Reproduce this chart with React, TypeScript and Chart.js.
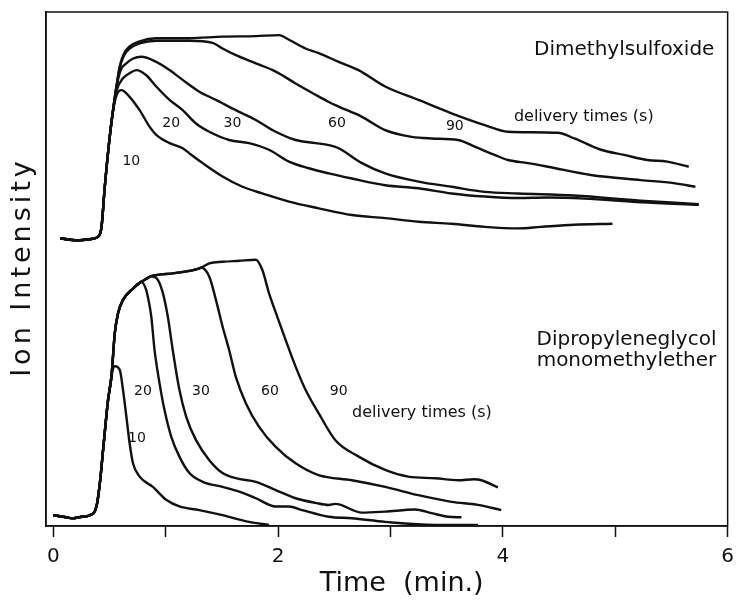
import { useEffect, useRef } from 'react';
import { Chart, registerables } from 'chart.js';

Chart.register(...registerables);

type P = [number, number];

// ---- x axis ----
const xTickValues = [0, 1, 2, 3, 4, 5, 6];
const xMin = -0.065;
const xMax = 6;

// ---- Dimethylsulfoxide (upper traces), [time (min), intensity] ----
const dmsoRise: P[] = [[0.06, 56.0], [0.148, 55.7], [0.236, 55.6], [0.325, 55.8], [0.399, 56.3], [0.429, 58.2], [0.458, 66.0], [0.502, 75.7]];
const dmso10: P[] = [[0.529, 80.5], [0.564, 83.9], [0.606, 84.8], [0.679, 83.5], [0.768, 80.9], [0.856, 77.7], [0.916, 76.1], [1.034, 74.5], [1.151, 73.5], [1.211, 72.5], [1.329, 70.6], [1.506, 68.0], [1.683, 66.0], [1.86, 64.7], [2.097, 63.1], [2.362, 61.8], [2.657, 60.5], [2.953, 59.9], [3.248, 59.2], [3.543, 58.8], [3.839, 58.2], [4.134, 57.9], [4.34, 58.2], [4.636, 58.6], [4.975, 58.8]];
const dmso20: P[] = [[0.538, 81.9], [0.564, 84.8], [0.62, 87.1], [0.679, 88.1], [0.739, 88.7], [0.827, 87.7], [0.916, 85.5], [1.034, 82.9], [1.151, 80.9], [1.27, 78.3], [1.388, 76.7], [1.565, 75.1], [1.742, 74.5], [1.919, 73.2], [2.097, 70.9], [2.274, 69.6], [2.451, 68.6], [2.657, 67.6], [2.953, 66.3], [3.248, 65.7], [3.543, 64.7], [3.839, 64.1], [4.134, 63.8], [4.4, 63.9], [4.725, 63.7], [5.226, 63.0], [5.743, 62.5]];
const dmso30: P[] = [[0.538, 81.9], [0.56, 85.2], [0.6, 88.7], [0.65, 90.0], [0.706, 90.9], [0.783, 91.3], [0.916, 90.3], [1.034, 88.7], [1.151, 86.8], [1.299, 84.5], [1.447, 82.9], [1.624, 80.9], [1.802, 79.0], [1.979, 76.7], [2.156, 75.1], [2.333, 74.5], [2.451, 74.1], [2.539, 73.5], [2.746, 70.6], [2.953, 68.6], [3.248, 67.0], [3.543, 66.0], [3.839, 65.0], [4.134, 64.7], [4.636, 64.3], [5.226, 63.3], [5.743, 62.6]];
const dmso60: P[] = [[0.538, 81.9], [0.562, 85.5], [0.59, 89.1], [0.626, 91.4], [0.679, 92.9], [0.768, 93.9], [0.916, 94.4], [1.211, 94.4], [1.417, 94.0], [1.506, 92.9], [1.624, 91.6], [1.802, 90.0], [1.979, 88.4], [2.156, 86.1], [2.333, 83.9], [2.451, 82.5], [2.539, 81.6], [2.746, 79.6], [2.953, 77.0], [3.189, 75.7], [3.366, 75.4], [3.602, 75.1], [3.75, 73.8], [3.927, 72.2], [4.045, 71.2], [4.222, 70.6], [4.4, 69.9], [4.783, 68.3], [5.226, 67.3], [5.522, 66.7], [5.713, 66.0]];
const dmso90: P[] = [[0.538, 81.9], [0.562, 85.5], [0.59, 89.3], [0.626, 91.8], [0.679, 93.3], [0.768, 94.3], [0.916, 94.9], [1.211, 94.9], [1.506, 95.2], [1.802, 95.3], [2.008, 95.5], [2.097, 94.6], [2.244, 92.9], [2.362, 92.0], [2.539, 90.3], [2.716, 88.7], [2.953, 85.5], [3.248, 82.9], [3.543, 80.3], [3.839, 78.0], [4.045, 76.7], [4.488, 76.5], [4.636, 75.4], [4.872, 73.2], [5.079, 72.2], [5.285, 71.2], [5.462, 70.9], [5.654, 69.9]];

// ---- Dipropyleneglycol monomethylether (lower traces) ----
const dpgRise: P[] = [[0, 2.1], [0.089, 1.8], [0.177, 1.5], [0.254, 1.8], [0.325, 2.1], [0.384, 3.8], [0.414, 8.3], [0.443, 14.8], [0.487, 24.5], [0.517, 29.0]];
const dpgEnvelope: P[] = [[0.547, 37.5], [0.576, 41.4], [0.62, 44.0], [0.709, 46.2], [0.783, 47.5]];
const dpgPlateau: P[] = [[0.821, 48.0], [0.872, 48.6]];
const dpg10: P[] = [[0.533, 30.7], [0.547, 31.1], [0.591, 30.4], [0.62, 26.5], [0.65, 21.3], [0.679, 16.1], [0.709, 12.2], [0.768, 9.6], [0.886, 7.6], [1.004, 5.1], [1.122, 3.8], [1.299, 3.1], [1.506, 2.1], [1.742, 0.8], [1.919, 0.2]];
const dpg20: P[] = [[0.827, 45.9], [0.841, 44.6], [0.872, 40.7], [0.901, 34.2], [0.945, 27.8], [0.989, 22.6], [1.049, 17.4], [1.122, 13.5], [1.211, 10.3], [1.329, 8.6], [1.506, 7.6], [1.654, 6.7], [1.802, 5.4], [1.979, 3.8], [2.097, 3.8], [2.214, 3.1], [2.451, 1.8], [2.657, 1.5], [2.953, 0.8], [3.396, 0.2], [3.779, 0.2]];
const dpg30: P[] = [[0.93, 47.9], [0.975, 45.3], [1.019, 40.7], [1.063, 34.2], [1.122, 26.5], [1.182, 21.3], [1.27, 16.7], [1.388, 12.8], [1.506, 10.3], [1.624, 9.3], [1.802, 8.6], [1.979, 7.0], [2.156, 5.4], [2.333, 4.5], [2.45, 4.1], [2.51, 4.3], [2.746, 2.6], [2.953, 2.8], [3.219, 3.2], [3.366, 2.5], [3.514, 1.8], [3.632, 1.7]];
const dpg60: P[] = [[1.078, 49.2], [1.299, 50.1], [1.314, 50.3], [1.388, 48.5], [1.447, 44.0], [1.506, 38.8], [1.565, 34.2], [1.624, 29.0], [1.713, 23.9], [1.831, 19.3], [1.979, 15.4], [2.156, 12.2], [2.36, 9.9], [2.657, 8.9], [2.953, 7.6], [3.248, 6.0], [3.543, 4.7], [3.779, 4.1], [3.986, 3.1]];
const dpg90: P[] = [[1.078, 49.2], [1.299, 50.1], [1.388, 51.1], [1.506, 51.4], [1.654, 51.6], [1.802, 51.8], [1.86, 49.8], [1.919, 45.3], [1.993, 40.7], [2.067, 36.2], [2.156, 31.0], [2.244, 26.5], [2.362, 21.9], [2.51, 16.7], [2.717, 13.5], [2.953, 10.9], [3.159, 9.6], [3.396, 9.3], [3.602, 8.9], [3.744, 9.1], [3.809, 8.9], [3.956, 7.5]];

// ---- annotations ----
const curveLabels = ['10', '20', '30', '60', '90'];
const upperLabelT = [0.694, 1.049, 1.594, 2.524, 3.573];
const upperLabelV = [70.9, 78.3, 78.3, 78.3, 77.8];
const lowerLabelT = [0.744, 0.797, 1.314, 1.928, 2.539];
const lowerLabelV = [17.1, 26.1, 26.1, 26.1, 26.1];
const deliveryText = 'delivery times (s)';
const upperDeliveryPos: P = [4.72, 79.6];
const lowerDeliveryPos: P = [3.28, 22.1];
const upperCompound = ['Dimethylsulfoxide'];
const upperCompoundPos: P = [5.08, 92.6];
const lowerCompound = ['Dipropyleneglycol', 'monomethylether'];
const lowerCompoundPos: P[] = [[5.1, 36.2], [5.1, 32.1]];
const yTitle = 'Ion Intensity';
const xTitle = 'Time  (min.)';
const xTitleCenterT = 3.1;

const FONT = '"DejaVu Sans", "Noto Sans", sans-serif';
const INK = '#111';

const traces: P[][] = [
  [...dmsoRise, ...dmso10],
  [...dmsoRise, ...dmso20],
  [...dmsoRise, ...dmso30],
  [...dmsoRise, ...dmso60],
  [...dmsoRise, ...dmso90],
  [...dpgRise, ...dpg10],
  [...dpgRise, ...dpgEnvelope, ...dpg20],
  [...dpgRise, ...dpgEnvelope, ...dpgPlateau, ...dpg30],
  [...dpgRise, ...dpgEnvelope, ...dpgPlateau, ...dpg60],
  [...dpgRise, ...dpgEnvelope, ...dpgPlateau, ...dpg90],
];

const annotationPlugin = {
  id: 'annotations',
  afterDatasetsDraw(chart: any) {
    const { ctx, chartArea, scales } = chart;
    const xs = scales.x;
    const ys = scales.y;
    ctx.save();
    // frame
    ctx.strokeStyle = INK;
    ctx.lineWidth = 1.5;
    ctx.strokeRect(chartArea.left, chartArea.top, chartArea.right - chartArea.left, chartArea.bottom - chartArea.top);

    ctx.fillStyle = INK;
    ctx.textAlign = 'center';
    ctx.textBaseline = 'middle';
    const put = (text: string, t: number, v: number, size: number) => {
      ctx.font = `${size}px ${FONT}`;
      ctx.fillText(text, xs.getPixelForValue(t), ys.getPixelForValue(v));
    };
    curveLabels.forEach((lab, i) => {
      put(lab, upperLabelT[i], upperLabelV[i], 14);
      put(lab, lowerLabelT[i], lowerLabelV[i], 14);
    });
    put(deliveryText, upperDeliveryPos[0], upperDeliveryPos[1], 16);
    put(deliveryText, lowerDeliveryPos[0], lowerDeliveryPos[1], 16);
    put(upperCompound[0], upperCompoundPos[0], upperCompoundPos[1], 20);
    lowerCompound.forEach((s, i) => put(s, lowerCompoundPos[i][0], lowerCompoundPos[i][1], 20));

    // x-axis title
    ctx.font = `27px ${FONT}`;
    ctx.fillText(xTitle, xs.getPixelForValue(xTitleCenterT), chartArea.bottom + 58);

    // y-axis title (rotated, letter spaced)
    ctx.translate(23, (chartArea.top + chartArea.bottom) / 2);
    ctx.rotate(-Math.PI / 2);
    ctx.font = `27px ${FONT}`;
    (ctx as any).letterSpacing = '4px';
    ctx.fillText(yTitle, 2, 0);
    ctx.restore();
  },
};

export default function App() {
  const ref = useRef<HTMLCanvasElement | null>(null);
  useEffect(() => {
    document.body.style.margin = '0';
    const canvas = ref.current;
    if (!canvas) return;
    const chart = new Chart(canvas, {
      type: 'line',
      data: {
        datasets: traces.map((tr) => ({
          data: tr.map(([x, y]) => ({ x, y })),
          borderColor: INK,
          borderWidth: 2.4,
          pointRadius: 0,
          fill: false,
          cubicInterpolationMode: 'monotone' as const,
          clip: false as any,
        })),
      },
      options: {
        animation: false,
        responsive: true,
        maintainAspectRatio: false,
        layout: { padding: { top: 12, right: 11, left: 0, bottom: 0 } },
        plugins: { legend: { display: false }, tooltip: { enabled: false }, title: { display: false } },
        scales: {
          x: {
            type: 'linear',
            min: xMin,
            max: xMax,
            afterBuildTicks: (s: any) => {
              s.ticks = xTickValues.map((v) => ({ value: v }));
            },
            afterFit: (s: any) => {
              s.height = 74;
            },
            ticks: {
              autoSkip: false,
              maxRotation: 0,
              padding: 8,
              color: INK,
              font: { family: FONT, size: 20 },
              callback: (v: any) => (Number(v) % 2 === 0 ? String(v) : ''),
            },
            grid: { drawOnChartArea: false, drawTicks: true, tickLength: 11, tickWidth: 1.5, tickColor: INK },
            border: { display: true, color: INK, width: 1.5 },
            title: { display: false },
          },
          y: {
            type: 'linear',
            min: 0,
            max: 100,
            afterFit: (s: any) => {
              s.width = 46;
            },
            ticks: { display: false },
            grid: { drawOnChartArea: false, drawTicks: false },
            border: { display: true, color: INK, width: 1.5 },
          },
        },
      },
      plugins: [annotationPlugin],
    });
    return () => chart.destroy();
  }, []);
  return (
    <div style={{ width: 742, height: 600, position: 'relative', background: '#fff' }}>
      <canvas ref={ref} />
    </div>
  );
}
